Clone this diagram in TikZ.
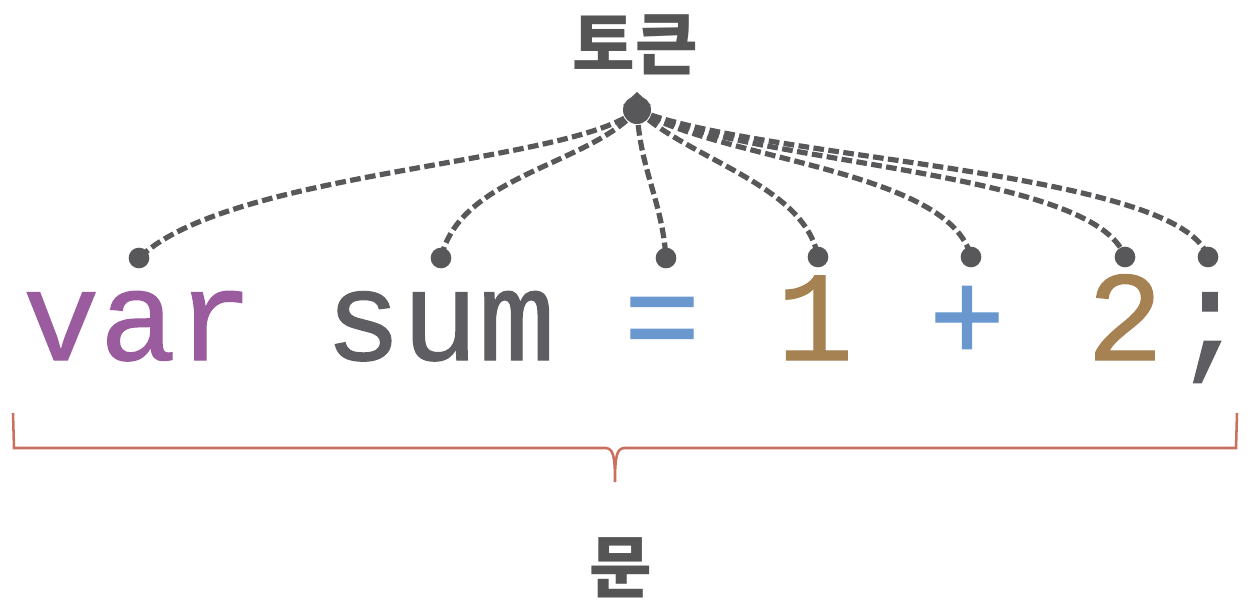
\documentclass[tikz,border=0pt]{standalone}
\usepackage{fontspec}
\newfontfamily\codefont{Liberation Mono}[FakeBold=0.9]
\newfontfamily\krfont{Noto Sans CJK KR}
\definecolor{cvar}{HTML}{9A5C9E}
\definecolor{cname}{HTML}{5E5E62}
\definecolor{cop}{HTML}{6A98CE}
\definecolor{cnum}{HTML}{A68253}
\definecolor{cline}{HTML}{58585A}
\definecolor{clabel}{HTML}{555555}
\definecolor{cbrace}{HTML}{C9705E}
\tikzset{
  tok/.style={anchor=base, inner sep=0pt, font=\codefont\fontsize{96}{100}\selectfont},
  lbl/.style={inner sep=0pt, text=clabel, font=\krfont\bfseries\fontsize{51}{56}\selectfont},
  tip/.style={circle, fill=cline, inner sep=0pt, minimum size=15.5pt},
  link/.style={draw=cline, line width=3.9pt, dash pattern=on 8pt off 3.3pt},
  bracepath/.style={draw=cbrace, line width=1.9pt, line join=miter}
}
\begin{document}
\begin{tikzpicture}[x=0.75pt, y=-0.75pt]
\useasboundingbox (0,0) rectangle (1251,611);
% labels
\node[lbl] (token) at (635,45) {토큰};
\node[lbl] (mun) at (621,568) {문};
% code tokens
\node[tok, text=cvar] (tvar) at (138,360) {var};
\node[tok, text=cname] (tsum) at (440,360) {sum};
\node[tok, text=cop] (teq) at (662,360) {=};
\node[tok, text=cnum] (tone) at (815,360) {1};
\node[tok, text=cop] (tplus) at (967,360) {+};
\node[tok, text=cnum] (ttwo) at (1125,360) {2};
\node[tok, text=cname] (tsemi) at (1210,360) {;};
% apex
\coordinate (apex) at (637,110);
\fill[cline] (apex) circle[radius=14] (623,105) -- (637,92) -- (651,105) -- cycle;
% end dots
\node[tip] (dvar) at (139,258) {};
\node[tip] (dsum) at (441,258) {};
\node[tip] (deq) at (666,258) {};
\node[tip] (done) at (818,257) {};
\node[tip] (dplus) at (971,257) {};
\node[tip] (dtwo) at (1125,257) {};
\node[tip] (dsemi) at (1208,257) {};
% connectors
\draw[link] (apex) .. controls (570,165) and (230,170) .. (dvar.center);
\draw[link] (apex) .. controls (590,165) and (460,175) .. (dsum.center);
\draw[link] (apex) .. controls (640,170) and (662,200) .. (deq.center);
\draw[link] (apex) .. controls (690,160) and (805,185) .. (done.center);
\draw[link] (apex) .. controls (720,160) and (950,170) .. (dplus.center);
\draw[link] (apex) .. controls (750,165) and (1095,170) .. (dtwo.center);
\draw[link] (apex) .. controls (760,160) and (1180,170) .. (dsemi.center);
% brace
\draw[bracepath] (13,413) -- (14,448) -- (606,448) .. controls (613,449) and (615,455) .. (615,482)
  .. controls (615,455) and (617,449) .. (624,448) -- (1236,448) -- (1237,413);
\end{tikzpicture}
\end{document}
